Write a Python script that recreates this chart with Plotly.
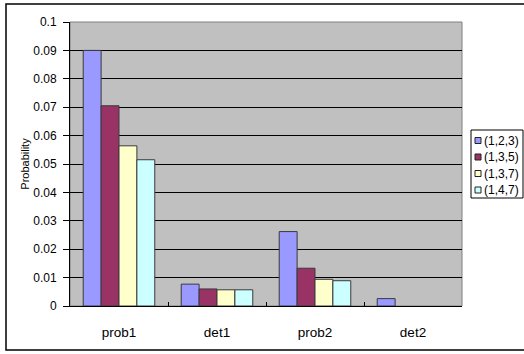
import plotly.graph_objects as go

categories = ["prob1", "det1", "prob2", "det2"]
series_names = ["(1,2,3)", "(1,3,5)", "(1,3,7)", "(1,4,7)"]
values_123 = [0.0900, 0.0077, 0.0262, 0.0026]
values_135 = [0.0705, 0.0060, 0.0133, 0.0]
values_137 = [0.0564, 0.0057, 0.0094, 0.0]
values_147 = [0.0515, 0.0057, 0.0089, 0.0]
colors = ["#9999FF", "#993366", "#FFFFCC", "#CCFFFF"]

font = "Liberation Sans"
L, R, T, B = 70, 62, 22, 48
W, H = 524, 354
pw, ph = W - L - R, H - T - B


def px_x(x):
    return (x - L) / pw


def px_y(y):
    return (H - B - y) / ph


fig = go.Figure()
for name, vals, col in zip(series_names, [values_123, values_135, values_137, values_147], colors):
    fig.add_trace(go.Bar(
        x=categories, y=vals, name=name, showlegend=False,
        marker=dict(color=col, line=dict(color="#3a3a3a",
                                         width=[1 if v > 0 else 0 for v in vals])),
    ))

shapes = [
    dict(type="rect", xref="paper", yref="paper", x0=0, x1=1, y0=0, y1=1,
         line=dict(color="#808080", width=1), layer="below"),
    dict(type="rect", xref="paper", yref="paper", x0=px_x(6), x1=px_x(700), y0=px_y(350), y1=px_y(4),
         line=dict(color="black", width=1.5), fillcolor="rgba(0,0,0,0)"),
    dict(type="rect", xref="paper", yref="paper", x0=px_x(471), x1=px_x(523), y0=px_y(198), y1=px_y(130),
         line=dict(color="black", width=1), fillcolor="white"),
]
annotations = []
row_y = [140.5, 157, 173.5, 190]
for name, col, ry in zip(series_names, colors, row_y):
    shapes.append(dict(type="rect", xref="paper", yref="paper",
                       x0=px_x(475), x1=px_x(481), y0=px_y(ry + 3), y1=px_y(ry - 3),
                       line=dict(color="#222222", width=1), fillcolor=col))
    annotations.append(dict(xref="paper", yref="paper", x=px_x(482), y=px_y(ry),
                            xanchor="left", yanchor="middle", showarrow=False,
                            text=name, font=dict(size=12, family=font)))

fig.update_layout(
    width=W, height=H,
    margin=dict(l=L, r=R, t=T, b=B, autoexpand=False),
    paper_bgcolor="white",
    plot_bgcolor="#C0C0C0",
    barmode="group", bargap=0.27, bargroupgap=0,
    font=dict(family=font, size=11, color="black"),
    showlegend=False,
    xaxis=dict(
        showline=True, linecolor="black", linewidth=1,
        ticks="inside", tickson="boundaries", ticklen=4, tickcolor="black",
        showgrid=False, tickfont=dict(size=13.5), ticklabelstandoff=14,
    ),
    yaxis=dict(
        range=[0, 0.1], dtick=0.01, tick0=0,
        showline=True, linecolor="black", linewidth=1,
        ticks="outside", ticklen=6, tickcolor="black",
        showgrid=True, gridcolor="black", gridwidth=1,
        zeroline=False, tickfont=dict(size=12), ticklabelstandoff=4,
        title=dict(text="Probability", font=dict(size=11), standoff=1),
    ),
    shapes=shapes,
    annotations=annotations,
)

fig.write_html("out.html")
